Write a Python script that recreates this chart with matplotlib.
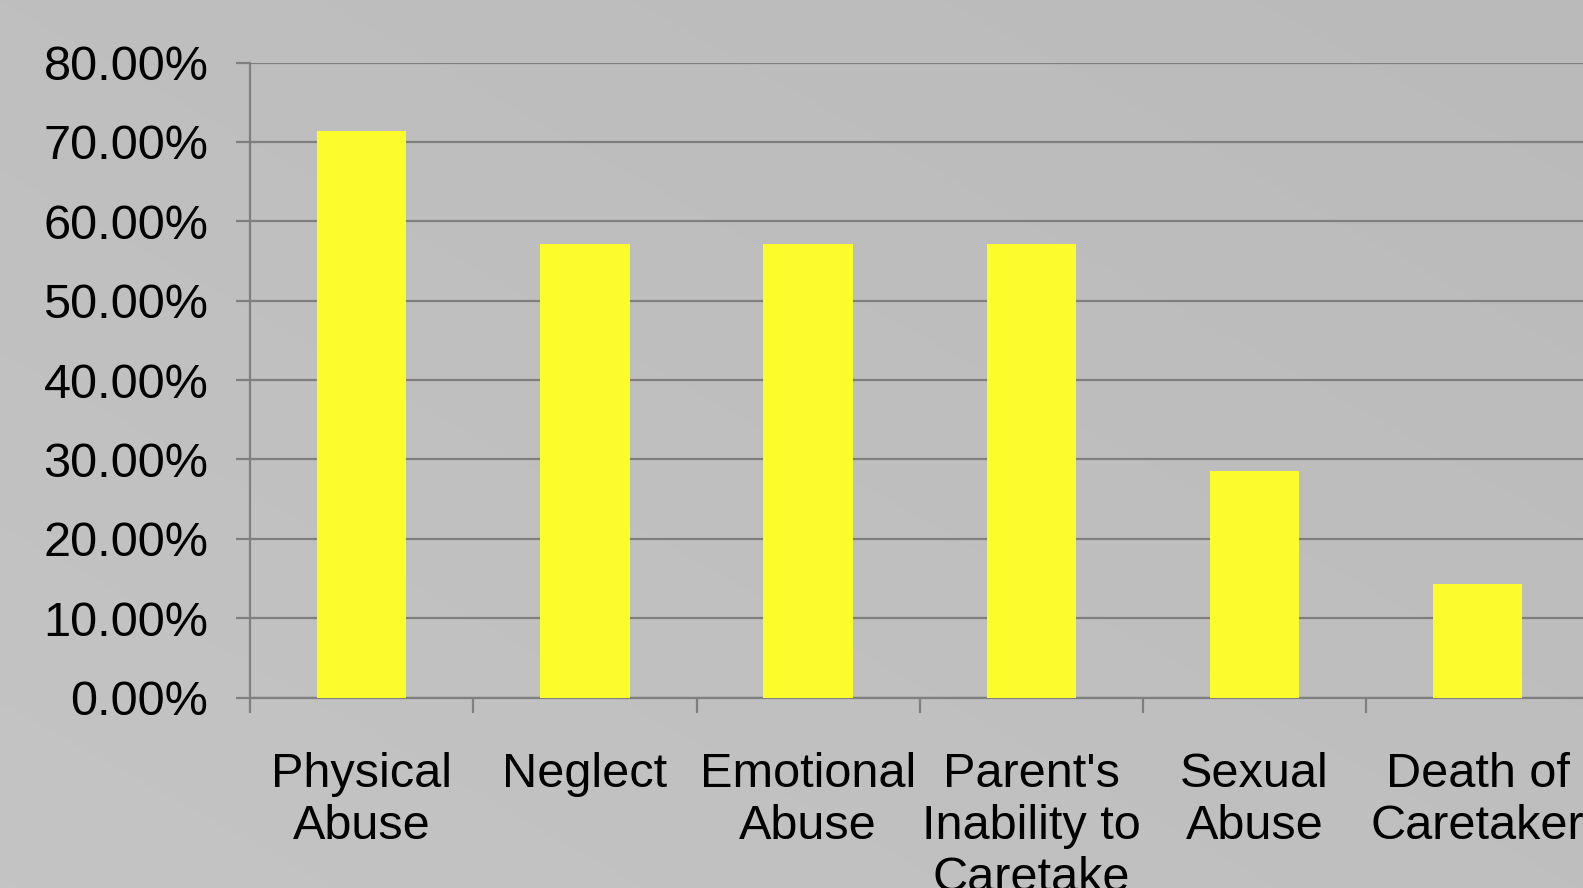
import numpy as np
import matplotlib
matplotlib.use("Agg")
import matplotlib.pyplot as plt

# data
categories = ["Physical\nAbuse", "Neglect", "Emotional\nAbuse",
              "Parent's\nInability to\nCaretake", "Sexual\nAbuse", "Death of\nCaretaker"]
values = [71.43, 57.14, 57.14, 57.14, 28.57, 14.29]
y_ticks = [0, 10, 20, 30, 40, 50, 60, 70, 80]

plt.rcParams['font.family'] = ['Liberation Sans', 'DejaVu Sans']

fig = plt.figure(figsize=(15.83, 8.88), dpi=100)

# grey gradient background
bg = fig.add_axes([0, 0, 1, 1])
xx, yy = np.meshgrid(np.linspace(0, 1, 200), np.linspace(0, 1, 200))
grad = 0.5 * xx + 0.5 * (1 - yy)
bg.imshow(grad, cmap=matplotlib.colors.LinearSegmentedColormap.from_list(
    "g", ["#c4c4c4", "#bababa"]), aspect="auto", extent=[0, 1, 0, 1], origin="upper")
bg.axis("off")

ax = fig.add_axes([0.158, 0.2145, 0.846, 0.715])
ax.set_facecolor("none")
x = np.arange(len(values))
ax.bar(x, values, width=0.4, color="#fcfc2c", zorder=3)

ax.set_xlim(-0.5, 5.5)
ax.set_ylim(0, 80)
ax.set_yticks(y_ticks)
ax.set_yticklabels([f"{v:.2f}%" for v in y_ticks], fontsize=35)
ax.grid(axis="y", color="#7f7f7f", linewidth=1.6, zorder=1)

ax.set_xticks(np.arange(-0.5, 5.0, 1.0))
ax.set_xticklabels([])
ax.set_xticks(x, minor=True)
ax.set_xticklabels(categories, minor=True, fontsize=35, linespacing=1.21)
ax.tick_params(axis="x", which="minor", length=0, pad=39)
ax.tick_params(axis="x", which="major", length=11, width=1.6, color="#7f7f7f")
ax.tick_params(axis="y", length=10, width=1.6, color="#7f7f7f", pad=20)

for s in ["top", "right"]:
    ax.spines[s].set_visible(False)
for s in ["left", "bottom"]:
    ax.spines[s].set_color("#7f7f7f")
    ax.spines[s].set_linewidth(1.6)

fig.savefig("out.png", dpi=100)
